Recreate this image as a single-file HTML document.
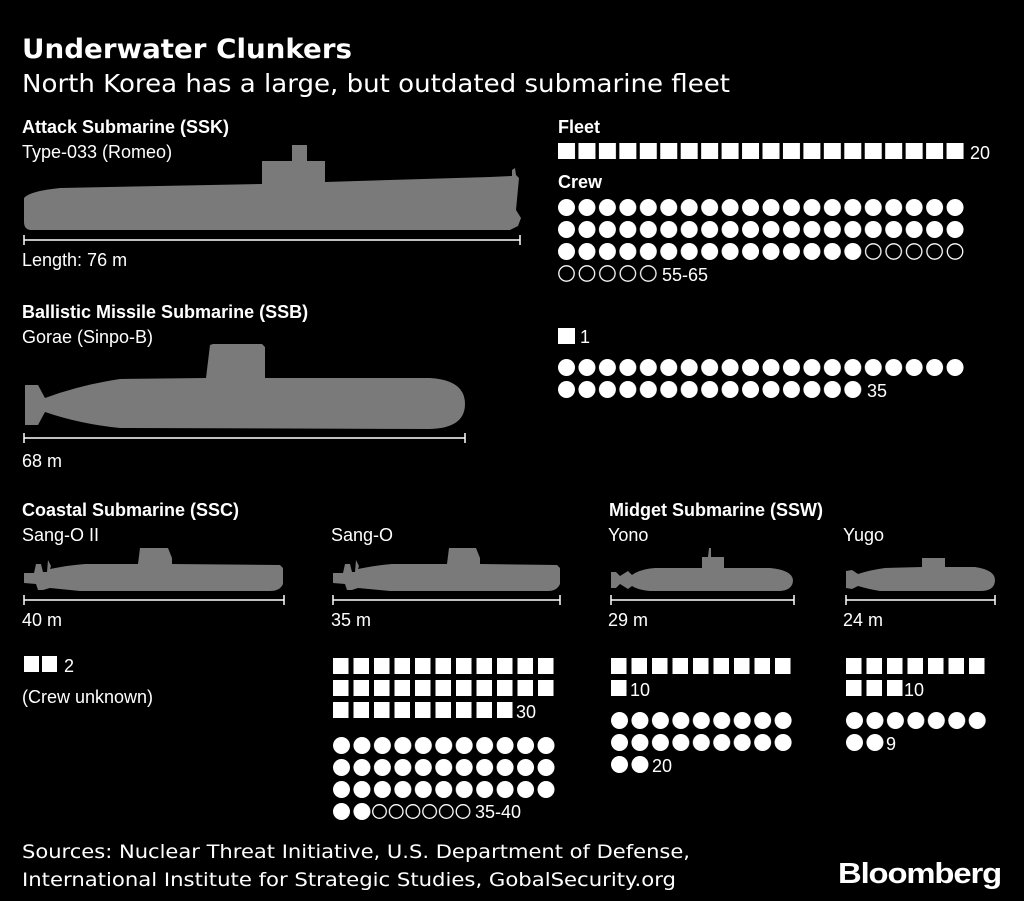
<!DOCTYPE html>
<html><head><meta charset="utf-8"><style>
html,body{margin:0;padding:0;background:#000;}
svg{display:block;}
.t{font-family:"Liberation Sans",sans-serif;fill:#fff;}
.h{font-family:"Liberation Sans",sans-serif;font-weight:bold;fill:#fff;font-size:18px;}
.n{font-family:"Liberation Sans",sans-serif;fill:#fff;font-size:18px;}
.d{font-family:"DejaVu Sans",sans-serif;fill:#fff;}
</style></head><body>
<svg width="1024" height="901" viewBox="0 0 1024 901" xmlns="http://www.w3.org/2000/svg">
<defs>
<pattern id="sq" patternUnits="userSpaceOnUse" x="0" y="0" width="20.45" height="22"><rect x="0" y="0" width="17" height="16" fill="#fff"/></pattern>
<pattern id="sq2" patternUnits="userSpaceOnUse" x="0" y="0" width="20.5" height="22"><rect x="0" y="0" width="15.5" height="16" fill="#fff"/></pattern>
<pattern id="ci" patternUnits="userSpaceOnUse" x="0" y="0" width="20.45" height="22"><circle cx="8.5" cy="8.5" r="8.5" fill="#fff"/></pattern>
<pattern id="co" patternUnits="userSpaceOnUse" x="0" y="0" width="20.45" height="22"><circle cx="8.5" cy="8.5" r="7.7" fill="none" stroke="#fff" stroke-width="1.3"/></pattern>
<pattern id="co2" patternUnits="userSpaceOnUse" x="0" y="0" width="16.7" height="22"><circle cx="7.5" cy="8.5" r="6.8" fill="none" stroke="#fff" stroke-width="1.3"/></pattern>
</defs>
<rect width="1024" height="901" fill="#000"/>

<text class="d" x="22" y="58" font-size="27" font-weight="bold" textLength="330" lengthAdjust="spacingAndGlyphs">Underwater Clunkers</text>
<text class="d" x="22" y="92" font-size="25" textLength="708" lengthAdjust="spacingAndGlyphs">North Korea has a large, but outdated submarine fleet</text>

<!-- SSK -->
<text class="h" x="22" y="133">Attack Submarine (SSK)</text>
<text class="n" x="22" y="158">Type-033 (Romeo)</text>
<path fill="#7a7a7a" d="M24 198 Q30 191 60 188 L262 184 L262 161 L292 161 L292 145 L307 145 L307 161 L325 161 L325 182 L490 177 L512 176 L512 170 L515 168 L516 175 L519 178 L516 210 L521 218 L518 226 L510 230 L30 230 Q24 229 24 222 Z"/>
<line x1="24" y1="240" x2="520" y2="240" stroke="#fff" stroke-width="1.5"/>
<line x1="24" y1="235" x2="24" y2="245" stroke="#fff" stroke-width="1.5"/>
<line x1="520" y1="235" x2="520" y2="245" stroke="#fff" stroke-width="1.5"/>
<text class="n" x="22" y="266">Length: 76 m</text>

<!-- SSB -->
<text class="h" x="22" y="318">Ballistic Missile Submarine (SSB)</text>
<text class="n" x="22" y="343">Gorae (Sinpo-B)</text>
<path fill="#7a7a7a" d="M25 385 L38 385 L45 398 Q80 385 120 379 L206 378 L210 345 L213 344 L262 344 L265 347 L265 378 L430 378 Q465 380 465 404 Q465 428 430 429 L120 428 Q80 424 45 412 L38 425 L25 425 Z"/>
<line x1="24" y1="438" x2="465" y2="438" stroke="#fff" stroke-width="1.5"/>
<line x1="24" y1="433" x2="24" y2="443" stroke="#fff" stroke-width="1.5"/>
<line x1="465" y1="433" x2="465" y2="443" stroke="#fff" stroke-width="1.5"/>
<text class="n" x="22" y="467">68 m</text>

<!-- Fleet/crew right -->
<text class="h" x="558" y="133">Fleet</text>
<g transform="translate(558,143)"><rect x="0" y="0" width="408" height="16" fill="url(#sq)"/></g>
<text class="n" x="970" y="159">20</text>
<text class="h" x="558" y="188">Crew</text>
<g transform="translate(558,199)">
<rect x="0" y="0" width="409" height="44" fill="url(#ci)"/>
<rect x="0" y="44" width="306" height="18" fill="url(#ci)"/>
</g>
<g transform="translate(864.75,243)"><rect x="0" y="0" width="100" height="18" fill="url(#co)"/></g>
<g transform="translate(558,265)"><rect x="0" y="0" width="100" height="18" fill="url(#co)"/></g>
<text class="n" x="662" y="281">55-65</text>
<rect x="558" y="328" width="17" height="16" fill="#fff"/>
<text class="n" x="580" y="343">1</text>
<g transform="translate(558,359)">
<rect x="0" y="0" width="409" height="18" fill="url(#ci)"/>
<rect x="0" y="22" width="306" height="18" fill="url(#ci)"/>
</g>
<text class="n" x="867" y="397">35</text>

<!-- Coastal -->
<text class="h" x="22" y="516">Coastal Submarine (SSC)</text>
<text class="n" x="22" y="541">Sang-O II</text>
<path fill="#7a7a7a" d="M24 573 L34 573 L36 564 L41 564 L43 572 L47 572 L48 560 L51 566 L50 569 Q70 565 85 564 L138 564 L140 548 L168 548 L172 558 L172 564 L280 565 L283 568 L283 584 Q280 591 270 591 L80 591 L50 588 L43 590 L38 590 L36 584 L24 583 Z"/>
<line x1="24" y1="600" x2="284" y2="600" stroke="#fff" stroke-width="1.5"/>
<line x1="24" y1="595" x2="24" y2="605" stroke="#fff" stroke-width="1.5"/>
<line x1="284" y1="595" x2="284" y2="605" stroke="#fff" stroke-width="1.5"/>
<text class="n" x="22" y="626">40 m</text>
<rect x="24" y="656" width="15" height="16" fill="#fff"/><rect x="42" y="656" width="15" height="16" fill="#fff"/>
<text class="n" x="64" y="672">2</text>
<text class="n" x="22" y="703">(Crew unknown)</text>

<text class="n" x="331" y="541">Sang-O</text>
<path fill="#7a7a7a" d="M333 573 L343 573 L345 564 L350 564 L352 572 L355 572 L356 560 L359 566 L358 569 Q378 565 392 564 L447 564 L449 548 L476 548 L480 558 L480 564 L557 565 L560 568 L560 584 Q557 591 548 591 L390 591 L358 588 L352 590 L347 590 L345 584 L333 583 Z"/>
<line x1="333" y1="600" x2="560" y2="600" stroke="#fff" stroke-width="1.5"/>
<line x1="333" y1="595" x2="333" y2="605" stroke="#fff" stroke-width="1.5"/>
<line x1="560" y1="595" x2="560" y2="605" stroke="#fff" stroke-width="1.5"/>
<text class="n" x="331" y="626">35 m</text>
<g transform="translate(333,658)">
<rect x="0" y="0" width="222" height="38" fill="url(#sq2)"/>
<rect x="0" y="44" width="180" height="16" fill="url(#sq2)"/>
</g>
<text class="n" x="516" y="718">30</text>
<g transform="translate(333,737)">
<rect x="0" y="0" width="222" height="62" fill="url(#ci)"/>
<rect x="0" y="66" width="40" height="18" fill="url(#ci)"/>
</g>
<g transform="translate(372,803)"><rect x="0" y="0" width="100" height="18" fill="url(#co2)"/></g>
<text class="n" x="475" y="818">35-40</text>

<!-- Midget -->
<text class="h" x="609" y="516">Midget Submarine (SSW)</text>
<text class="n" x="608" y="541">Yono</text>
<path fill="#7a7a7a" d="M611 572 L616 572 L620 576 L628 571 L632 575 Q640 569 655 568 L702 568 L702 557 L708 557 L709 548 L711 548 L711 557 L724 557 L724 568 L770 568 Q792 570 793 580 Q793 590 780 591 L650 591 Q638 590 632 586 L628 589 L620 584 L616 588 L611 588 Z"/>
<line x1="611" y1="600" x2="794" y2="600" stroke="#fff" stroke-width="1.5"/>
<line x1="611" y1="595" x2="611" y2="605" stroke="#fff" stroke-width="1.5"/>
<line x1="794" y1="595" x2="794" y2="605" stroke="#fff" stroke-width="1.5"/>
<text class="n" x="608" y="626">29 m</text>
<g transform="translate(611,658)">
<rect x="0" y="0" width="181" height="16" fill="url(#sq2)"/>
<rect x="0" y="22" width="16" height="16" fill="url(#sq2)"/>
</g>
<text class="n" x="630" y="696">10</text>
<g transform="translate(611,712)">
<rect x="0" y="0" width="183" height="40" fill="url(#ci)"/>
<rect x="0" y="44" width="40" height="18" fill="url(#ci)"/>
</g>
<text class="n" x="652" y="772">20</text>

<text class="n" x="843" y="541">Yugo</text>
<path fill="#7a7a7a" d="M846 571 L852 570 L858 574 Q870 570 885 568 L922 567 L922 558 L945 558 L945 567 L975 567 Q995 570 995 580 Q995 591 980 591 L880 591 Q868 589 858 586 L852 589 L846 588 Z"/>
<line x1="846" y1="600" x2="995" y2="600" stroke="#fff" stroke-width="1.5"/>
<line x1="846" y1="595" x2="846" y2="605" stroke="#fff" stroke-width="1.5"/>
<line x1="995" y1="595" x2="995" y2="605" stroke="#fff" stroke-width="1.5"/>
<text class="n" x="843" y="626">24 m</text>
<g transform="translate(846,658)">
<rect x="0" y="0" width="140" height="16" fill="url(#sq2)"/>
<rect x="0" y="22" width="57" height="16" fill="url(#sq2)"/>
</g>
<text class="n" x="904" y="696">10</text>
<g transform="translate(846,712)">
<rect x="0" y="0" width="142" height="18" fill="url(#ci)"/>
<rect x="0" y="22" width="40" height="18" fill="url(#ci)"/>
</g>
<text class="n" x="886" y="750">9</text>

<!-- footer -->
<text class="d" x="22" y="858" font-size="19" textLength="668" lengthAdjust="spacingAndGlyphs">Sources: Nuclear Threat Initiative, U.S. Department of Defense,</text>
<text class="d" x="22" y="886" font-size="19" textLength="654" lengthAdjust="spacingAndGlyphs">International Institute for Strategic Studies, GobalSecurity.org</text>
<text class="t" x="838" y="883" font-size="29" font-weight="bold" fill="#e6e6e6" textLength="163" lengthAdjust="spacingAndGlyphs" style="letter-spacing:-1px">Bloomberg</text>
</svg>
</body></html>
